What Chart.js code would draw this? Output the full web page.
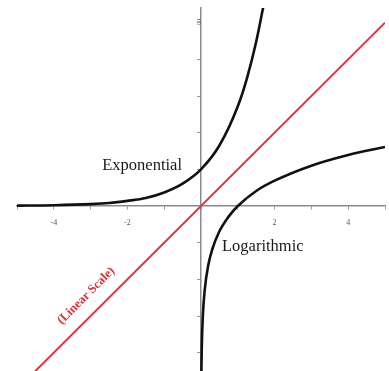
<!DOCTYPE html>
<html>
<head>
<meta charset="utf-8">
<script src="https://cdn.jsdelivr.net/npm/chart.js@4.4.1/dist/chart.umd.min.js"></script>
<style>
  html, body { margin: 0; padding: 0; background: #fff; }
  #wrap { width: 389px; height: 371px; }
</style>
</head>
<body>
<div id="wrap"><canvas id="mycanvas"></canvas></div>
<script>
// exponential curve
var expX = [-5, -4, -3, -2.5, -2, -1.5, -1, -0.5, 0, 0.5, 1, 1.25, 1.5, 1.7];
var expY = [0.01, 0.02, 0.05, 0.08, 0.14, 0.22, 0.37, 0.61, 1.0, 1.65, 2.72, 3.49, 4.48, 5.47];

// logarithmic curve
var logX = [0.01, 0.02, 0.05, 0.1, 0.2, 0.3, 0.5, 0.75, 1, 1.5, 2, 3, 4, 5];
var logY = [-4.6, -3.9, -3.0, -2.3, -1.6, -1.2, -0.69, -0.29, 0, 0.41, 0.69, 1.1, 1.39, 1.61];

// straight line (linear scale)
var linX = [-5, 5];
var linY = [-5, 5];

var xTickLabels = [-4, -2, 2, 4];
var yTickLabels = [5];

function pts(xs, ys) {
	var out = [];
	for (var i in xs) {
		out.push({x: xs[i], y: ys[i]});
	}
	return out;
}

function onlyIntegers(scale) {
	scale.ticks = scale.ticks.filter(function(t) { return Number.isInteger(t.value); });
}

// centred axes: take no room in the layout
function noRoom(s) {
	if (s.isHorizontal()) { s.height = 0; } else { s.width = 0; }
	s.paddingTop = s.paddingBottom = s.paddingLeft = s.paddingRight = 0;
}

// curve captions drawn in data coordinates
var captions = {
	id: 'captions',
	afterDatasetsDraw: function(chart) {
		var ctx = chart.ctx;
		var sx = chart.scales.x, sy = chart.scales.y;
		ctx.save();
		ctx.textAlign = 'center';
		ctx.textBaseline = 'middle';
		ctx.fillStyle = '#1a1a1a';
		ctx.font = '16.5px "Liberation Serif", "Times New Roman", serif';
		ctx.fillText('Exponential', sx.getPixelForValue(-1.6), sy.getPixelForValue(1.1));
		ctx.fillText('Logarithmic', sx.getPixelForValue(1.68), sy.getPixelForValue(-1.1));

		ctx.translate(sx.getPixelForValue(-3.12), sy.getPixelForValue(-2.45));
		ctx.rotate(-Math.PI / 4);
		ctx.fillStyle = '#e0303a';
		ctx.font = 'bold 12.5px "Liberation Serif", "Times New Roman", serif';
		ctx.fillText('(Linear Scale)', 0, 0);
		ctx.restore();
	}
};

var chartdata = {
	datasets: [
		{
			label: 'Linear',
			data: pts(linX, linY),
			borderColor: '#e3323c',
			borderWidth: 2,
			pointRadius: 0,
			fill: false
		},
		{
			label: 'Exponential',
			data: pts(expX, expY),
			borderColor: '#111',
			borderWidth: 2.6,
			pointRadius: 0,
			cubicInterpolationMode: 'monotone',
			fill: false
		},
		{
			label: 'Logarithmic',
			data: pts(logX, logY),
			borderColor: '#111',
			borderWidth: 2.6,
			pointRadius: 0,
			cubicInterpolationMode: 'monotone',
			fill: false
		}
	]
};

var ctx = document.getElementById('mycanvas');

var graph = new Chart(ctx, {
	type: 'line',
	data: chartdata,
	plugins: [captions],
	options: {
		responsive: true,
		maintainAspectRatio: false,
		animation: false,
		layout: { padding: { left: 17, right: 4, top: 8, bottom: 0 } },
		plugins: { legend: { display: false }, tooltip: { enabled: false } },
		scales: {
			x: {
				type: 'linear',
				min: -5,
				max: 5,
				position: { y: 0 },
				afterFit: noRoom,
				afterBuildTicks: onlyIntegers,
				border: { color: '#8a8a8a', width: 1.5 },
				grid: { drawOnChartArea: false, tickLength: 3, color: '#9a9a9a' },
				ticks: {
					stepSize: 1,
					maxRotation: 0,
					autoSkip: false,
					color: '#555',
					padding: 9,
					font: { size: 8, family: '"Liberation Serif", serif' },
					callback: function(v) { return xTickLabels.indexOf(v) >= 0 ? String(v) : ''; }
				}
			},
			y: {
				type: 'linear',
				min: -4.5,
				max: 5.4,
				position: { x: 0 },
				afterFit: noRoom,
				afterBuildTicks: onlyIntegers,
				border: { color: '#8a8a8a', width: 1.5 },
				grid: { drawOnChartArea: false, tickLength: 3, color: '#9a9a9a' },
				ticks: {
					stepSize: 1,
					autoSkip: false,
					color: '#555',
					padding: 8,
					font: { size: 8, family: '"Liberation Serif", serif' },
					callback: function(v) { return yTickLabels.indexOf(v) >= 0 ? String(v) : ''; }
				}
			}
		}
	}
});
</script>
</body>
</html>
